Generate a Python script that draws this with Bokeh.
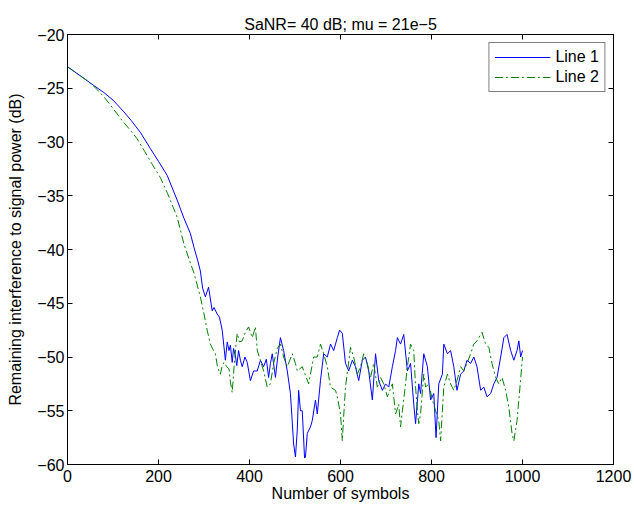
from bokeh.plotting import figure
from bokeh.models import (ColumnDataSource, LinearAxis, FixedTicker, CustomJSTickFormatter,
                          Legend, LegendItem, Range1d)
from bokeh.embed import file_html
from bokeh.resources import INLINE

# ---------------- data ----------------
line1_n = [0, 20, 40, 58, 80, 100, 124, 140, 160, 182, 200, 219, 241, 256, 270, 278, 286, 292, 297,
           303, 310, 318, 322, 329, 334, 340, 347, 351, 355, 358, 362, 365, 369, 372, 376, 380, 384,
           390, 395, 402, 409, 417, 424, 431, 437, 442, 446, 450, 457, 462, 468, 475, 483, 490, 497,
           501, 505, 508, 512, 516, 521, 523, 527, 534, 538, 545, 549, 556, 563, 571, 578, 585, 593,
           598, 604, 611, 618, 626, 633, 640, 648, 655, 662, 670, 677, 684, 692, 699, 706, 714, 721,
           725, 732, 739, 747, 754, 761, 765, 772, 776, 783, 791, 798, 805, 810, 816, 824, 827, 835,
           842, 849, 856, 864, 871, 878, 886, 893, 900, 908, 915, 922, 930, 937, 944, 952, 959, 966,
           974, 981, 988, 992, 996, 1000]
line1_db = [-23.0, -23.6, -24.2, -24.75, -25.4, -26.1, -27.2, -28.0, -29.1, -30.6, -31.8, -33.1, -35.4,
            -37.1, -38.5, -39.8, -41.0, -42.0, -43.6, -44.4, -43.5, -45.7, -45.4, -46.0, -46.3, -47.5,
            -50.3, -48.6, -49.4, -48.9, -50.5, -49.2, -49.9, -50.8, -49.4, -50.3, -50.9, -50.0, -50.5,
            -52.2, -51.3, -51.3, -50.3, -50.9, -50.2, -51.9, -50.6, -49.7, -51.9, -50.0, -48.2, -49.4,
            -51.3, -53.4, -58.1, -59.3, -56.8, -53.1, -55.0, -55.0, -59.4, -59.3, -57.1, -56.5, -55.9,
            -54.0, -55.3, -52.2, -49.7, -50.0, -48.8, -49.4, -48.2, -47.5, -47.8, -50.6, -51.3, -50.3,
            -50.9, -52.2, -50.3, -50.0, -51.3, -54.0, -49.7, -52.2, -53.1, -52.5, -52.8, -50.9, -49.4,
            -48.2, -48.8, -47.9, -51.3, -50.6, -54.4, -56.2, -52.5, -53.4, -49.7, -50.9, -54.0, -53.4,
            -57.5, -52.5, -51.6, -48.8, -49.7, -49.4, -50.9, -53.1, -51.6, -51.3, -50.3, -50.6, -50.0,
            -50.9, -53.1, -52.8, -53.7, -53.4, -52.5, -51.9, -50.0, -48.2, -47.9, -49.4, -50.3, -49.4,
            -48.5, -50.0, -49.4]

line2_n = [0, 20, 40, 60, 80, 95, 120, 140, 153, 170, 185, 204, 220, 241, 256, 268, 278, 292, 300,
           307, 314, 320, 325, 330, 336, 340, 344, 350, 355, 358, 362, 366, 370, 373, 378, 384, 391,
           398, 406, 413, 417, 424, 431, 439, 446, 453, 461, 468, 475, 483, 494, 501, 505, 516, 530,
           541, 549, 556, 563, 571, 578, 589, 593, 600, 604, 607, 611, 622, 629, 637, 644, 651, 659,
           666, 673, 681, 688, 695, 703, 714, 721, 728, 732, 736, 739, 747, 754, 761, 765, 769, 772,
           776, 783, 787, 794, 802, 809, 816, 820, 827, 835, 842, 849, 856, 864, 871, 878, 886, 893,
           900, 908, 911, 919, 926, 933, 941, 948, 955, 963, 970, 977, 981, 988, 992, 996, 1000]
line2_db = [-23.0, -23.6, -24.2, -24.9, -25.8, -26.6, -28.0, -29.0, -29.7, -30.9, -32.0, -33.3, -34.8,
            -37.0, -39.5, -41.0, -42.2, -44.4, -46.0, -47.5, -48.8, -49.3, -49.7, -51.0, -51.6, -50.8,
            -50.5, -50.9, -51.1, -52.3, -53.3, -51.0, -49.0, -47.8, -48.6, -48.5, -47.7, -47.2, -48.2,
            -47.2, -49.4, -50.3, -51.3, -52.8, -52.5, -50.6, -49.2, -48.8, -50.0, -50.9, -49.7, -50.6,
            -51.3, -50.9, -52.5, -50.0, -50.0, -48.8, -49.7, -50.9, -52.8, -53.1, -53.7, -55.3, -57.8,
            -55.5, -52.8, -49.1, -50.0, -51.6, -50.9, -49.7, -50.6, -51.9, -50.6, -52.8, -51.9, -52.5,
            -53.7, -52.5, -55.3, -54.4, -56.5, -55.0, -54.0, -50.9, -48.8, -49.4, -52.8, -55.0, -56.2,
            -55.3, -51.6, -52.8, -52.5, -54.0, -55.0, -55.9, -57.8, -52.8, -51.6, -52.5, -53.1, -52.2,
            -50.9, -51.3, -50.6, -49.7, -48.8, -48.5, -47.9, -47.7, -48.8, -49.1, -50.6, -51.9, -52.5,
            -51.9, -53.1, -54.7, -57.1, -57.8, -55.9, -54.0, -52.0, -50.0]

x_ticks = [0, 200, 400, 600, 800, 1000, 1200]
y_ticks = [-60, -55, -50, -45, -40, -35, -30, -25, -20]
series_labels = ["Line 1", "Line 2"]
title_text = "SaNR= 40 dB; mu = 21e\u22125"
x_label = "Number of symbols"
y_label = "Remaining interference to signal power (dB)"

FONT = "Liberation Sans"
FS = "16px"

p = figure(width=634, height=505, output_backend="svg", toolbar_location=None,
           x_range=Range1d(0, 1200), y_range=Range1d(-60, -20),
           min_border_left=67, min_border_right=21, min_border_top=34, min_border_bottom=41,
           background_fill_color="white", border_fill_color="white")

p.title.text = title_text
p.title.align = "center"
p.title.text_font = FONT
p.title.text_font_size = FS
p.title.text_font_style = "normal"
p.title.text_color = "black"
p.title.standoff = 4

p.xgrid.visible = False
p.ygrid.visible = False
p.outline_line_color = "black"

fmt = CustomJSTickFormatter(code="return String(tick).replace('-', '\\u2212');")

bottom_axis = p.below[0]
left_axis = p.left[0]
top_axis = LinearAxis()
right_axis = LinearAxis()
p.add_layout(top_axis, "above")
p.add_layout(right_axis, "right")

for ax in [bottom_axis, top_axis]:
    ax.ticker = FixedTicker(ticks=x_ticks)
for ax in [left_axis, right_axis]:
    ax.ticker = FixedTicker(ticks=y_ticks)

for ax in [bottom_axis, left_axis, top_axis, right_axis]:
    ax.axis_line_color = "black"
    ax.axis_line_width = 1
    ax.major_tick_in = 5
    ax.major_tick_out = 0
    ax.major_tick_line_color = "black"
    ax.minor_tick_in = 0
    ax.minor_tick_out = 0
    ax.minor_tick_line_color = None
    ax.formatter = fmt
    ax.major_label_text_font = FONT
    ax.major_label_text_font_size = FS
    ax.major_label_text_color = "black"
    ax.axis_label_text_font = FONT
    ax.axis_label_text_font_size = FS
    ax.axis_label_text_font_style = "normal"
    ax.axis_label_text_color = "black"

# box-style ticks on top and right: no labels drawn
for ax in [top_axis, right_axis]:
    ax.major_label_text_color = None
    ax.major_label_text_font_size = "1px"
    ax.major_label_standoff = 0
    ax.axis_label = None

bottom_axis.axis_label = x_label
bottom_axis.major_label_standoff = 5
bottom_axis.axis_label_standoff = 0
left_axis.axis_label = y_label
left_axis.major_label_standoff = 3
left_axis.axis_label_standoff = 10

src1 = ColumnDataSource(dict(x=line1_n, y=line1_db))
src2 = ColumnDataSource(dict(x=line2_n, y=line2_db))
r1 = p.line("x", "y", source=src1, line_color="#0000FF", line_width=1)
r2 = p.line("x", "y", source=src2, line_color="#008000", line_width=1, line_dash="8 3 2 3")

legend = Legend(items=[LegendItem(label=series_labels[0], renderers=[r1]),
                       LegendItem(label=series_labels[1], renderers=[r2])],
                location="top_right", margin=8, padding=5, spacing=2,
                glyph_width=56, glyph_height=18, label_height=18, label_standoff=5,
                label_text_font=FONT, label_text_font_size=FS, label_text_color="black",
                border_line_color="black", border_line_width=1,
                background_fill_color="white", background_fill_alpha=1.0)
p.add_layout(legend)

open("out.html", "w").write(file_html(p, INLINE))
